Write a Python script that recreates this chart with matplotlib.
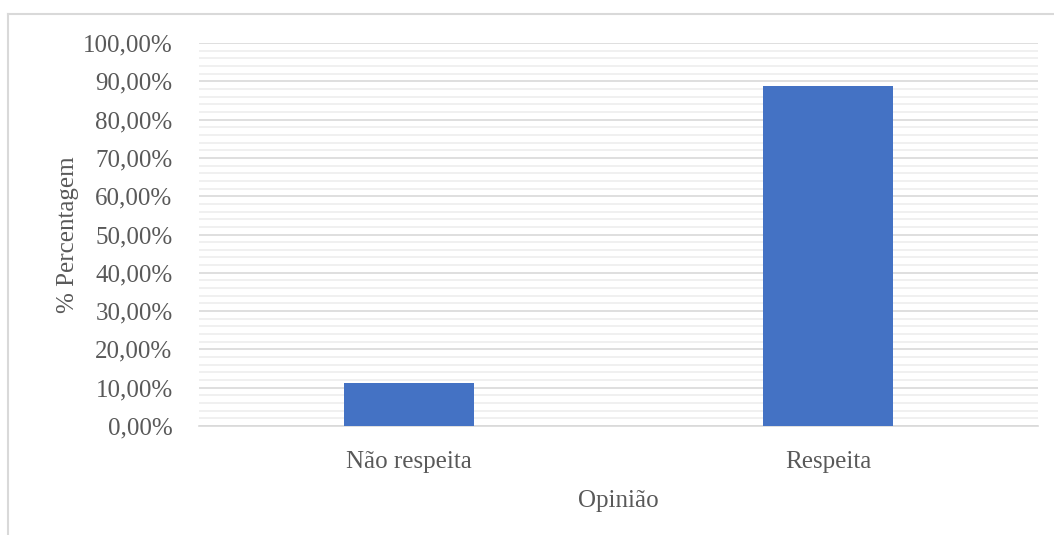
import numpy as np
import matplotlib.pyplot as plt
from matplotlib.ticker import MultipleLocator, FuncFormatter
from matplotlib.lines import Line2D

categorias = ["Não respeita", "Respeita"]
percentagens = [11.1, 88.9]

plt.rcParams['font.family'] = ['Liberation Serif', 'DejaVu Serif']

W, H = 1054, 535
fig = plt.figure(figsize=(W / 100, H / 100), dpi=100)
ax = fig.add_axes([199 / W, 1 - 426 / H, (1038 - 199) / W, (426 - 43) / H])

x = np.arange(len(categorias))
ax.bar(x, percentagens, width=0.31, color="#4472c4", zorder=3)

ax.set_xlim(-0.5, len(categorias) - 0.5)
ax.set_ylim(0, 100)
ax.yaxis.set_major_locator(MultipleLocator(10))
ax.yaxis.set_minor_locator(MultipleLocator(2))
ax.yaxis.set_major_formatter(FuncFormatter(lambda v, p: "{:.2f}%".format(v).replace(".", ",")))
ax.grid(axis="y", which="major", color="#d9d9d9", linewidth=1.2, zorder=1)
ax.grid(axis="y", which="minor", color="#ededed", linewidth=1.2, zorder=0)

ax.set_xticks(x)
ax.set_xticklabels(categorias)
ax.tick_params(axis="both", which="both", length=0, labelsize=18, labelcolor="#595959")
ax.tick_params(axis="y", pad=19)
ax.tick_params(axis="x", pad=18)

for s in ["top", "right", "left"]:
    ax.spines[s].set_visible(False)
ax.spines["bottom"].set_color("#d9d9d9")
ax.spines["bottom"].set_linewidth(1.2)

ax.set_xlabel("Opinião", fontsize=18, color="#595959", labelpad=12)
ax.set_ylabel("% Percentagem", fontsize=18, color="#595959", labelpad=3)

# chart border
fig.add_artist(Line2D([8 / W, 8 / W], [0, 1 - 14 / H], transform=fig.transFigure, color="#d9d9d9", linewidth=1.5))
fig.add_artist(Line2D([8 / W, 1], [1 - 14 / H, 1 - 14 / H], transform=fig.transFigure, color="#d9d9d9", linewidth=1.5))

plt.savefig("out.png", dpi=100)
